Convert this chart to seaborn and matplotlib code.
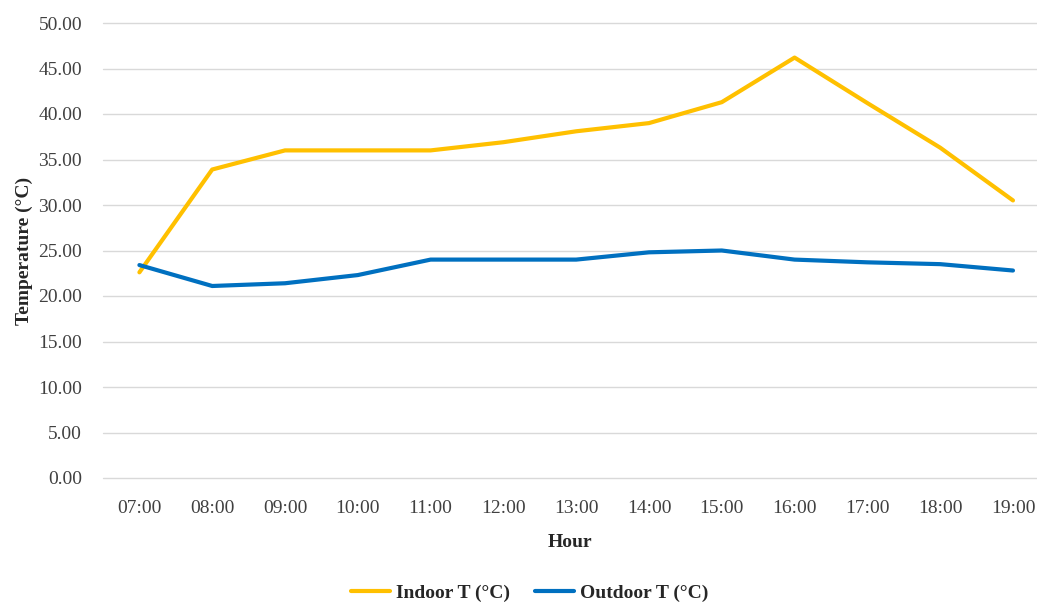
# Indoor vs outdoor temperature over the day

import pandas as pd
import seaborn as sns
import matplotlib.pyplot as plt

hours = ['07:00', '08:00', '09:00', '10:00', '11:00', '12:00', '13:00',
         '14:00', '15:00', '16:00', '17:00', '18:00', '19:00']
indoor = [22.6, 33.9, 36.0, 36.0, 36.0, 36.9, 38.1, 39.0, 41.3, 46.2, 41.2, 36.3, 30.5]
outdoor = [23.4, 21.1, 21.4, 22.3, 24.0, 24.0, 24.0, 24.8, 25.0, 24.0, 23.7, 23.5, 22.8]

# long format for seaborn
df = pd.DataFrame({
    'Hour': hours * 2,
    'Temperature': indoor + outdoor,
    'Series': ['Indoor T (°C)'] * len(hours) + ['Outdoor T (°C)'] * len(hours)
})

sns.set_style('white')
plt.rcParams['font.family'] = ['Liberation Serif', 'DejaVu Serif']

fig = plt.figure(figsize=(10.37, 6.04), dpi=100)
ax = fig.add_axes([103 / 1037, 1 - 478 / 604, 1 - 103 / 1037, (478 - 23) / 604])

sns.lineplot(
    data=df,
    x='Hour',
    y='Temperature',
    hue='Series',
    palette=['#FFC000', '#0070C0'],
    linewidth=3,
    sort=False,
    ax=ax
)

ax.set_ylim(0, 50)
ax.set_xlim(-0.5, 12.33)
ax.set_yticks(range(0, 51, 5))
ax.set_yticklabels([f'{v:.2f}' for v in range(0, 51, 5)])
ax.grid(axis='y', color='#d9d9d9', linewidth=1)
ax.set_axisbelow(True)
for g in ax.yaxis.get_gridlines():
    g.set_clip_on(False)
for s in ax.spines.values():
    s.set_visible(False)
ax.tick_params(axis='both', length=0, labelsize=14, colors='#404040')
ax.tick_params(axis='x', pad=16)
ax.tick_params(axis='y', pad=15)

ax.set_xlabel('Hour', fontsize=14, fontweight='bold', labelpad=12)
ax.set_ylabel('Temperature (°C)', fontsize=14, fontweight='bold', labelpad=4)

ax.legend(
    loc='center',
    bbox_to_anchor=(530 / 1037, 1 - 593 / 604),
    bbox_transform=fig.transFigure,
    ncol=2,
    frameon=False,
    prop={'weight': 'bold', 'size': 14},
    handlelength=2.0,
    handletextpad=0.3,
    columnspacing=1.3
)

plt.savefig('out.png', dpi=100)
